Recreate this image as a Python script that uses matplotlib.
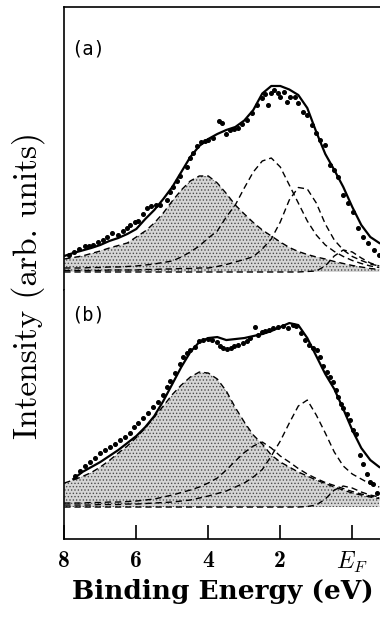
import matplotlib
matplotlib.use("Agg")
import matplotlib.pyplot as plt

plt.rcParams['mathtext.fontset'] = 'cm'
plt.rcParams['hatch.linewidth'] = 0.6

# energy grid for the fitted curves (eV)
energy = [8.0, 7.75, 7.5, 7.25, 7.0, 6.75, 6.5, 6.25, 6.0, 5.75, 5.5, 5.25,
          5.0, 4.75, 4.5, 4.25, 4.0, 3.75, 3.5, 3.25, 3.0, 2.75, 2.5, 2.25,
          2.0, 1.75, 1.5, 1.25, 1.0, 0.75, 0.5, 0.25, 0.0, -0.25, -0.5, -0.75]

# ---- panel (a) ----
a_fit = [16, 19, 21.5, 24, 27, 31, 34, 38, 43, 53, 62, 73,
         85, 100, 115, 126, 133, 138, 142, 145, 151.5, 162, 178.5, 186,
         186, 182.5, 177, 164, 140, 118, 102, 85, 65, 47, 35, 29]
a_shaded = [13, 14.5, 16, 18.5, 21, 24, 26.5, 29, 35, 41, 49, 59,
            71, 82, 91, 96, 96, 89, 78.5, 67, 58, 49.5, 42, 36,
            30, 24.5, 20.5, 17.5, 15, 13, 10.5, 8.5, 6.5, 5, 3.5, 2.5]
a_comp2 = [4, 4, 4, 4.5, 4.5, 5, 5, 5.5, 6, 7, 8, 9.5,
           11, 15, 20, 26, 34, 41, 55, 67, 84, 100, 111, 114,
           105, 87, 69, 51, 37, 27, 20.5, 15.5, 11.5, 8.5, 6, 4.5]
a_comp3 = [1.5, 1.5, 1.5, 1.5, 1.5, 2, 2, 2, 2, 2.5, 2.5, 3,
           3, 3.5, 3.5, 4, 4, 5.5, 7.5, 10, 12.5, 15.3, 23, 33,
           50, 72, 84.5, 83, 69, 48, 32, 22, 15.5, 11.5, 8, 6]
a_comp4 = [0, 0, 0, 0, 0, 0, 0, 0, 0, 0, 0, 0,
           0, 0, 0, 0, 0, 0, 0, 0, 0, 0, 0, 0,
           0, 0, 0, 0.5, 1, 6, 16, 22, 20, 14, 9, 6]

a_data_e = [7.88, 7.72, 7.58, 7.42, 7.3, 7.19, 7.05, 6.92, 6.8, 6.68, 6.5, 6.38,
            6.27, 6.18, 6.04, 5.94, 5.8, 5.71, 5.58, 5.45, 5.34, 5.16, 5.05, 4.97,
            4.86, 4.79, 4.6, 4.5, 4.42, 4.3, 4.2, 4.1, 4.0, 3.86, 3.7, 3.62,
            3.52, 3.4, 3.28, 3.17, 3.05, 2.93, 2.79, 2.66, 2.52, 2.42, 2.35, 2.27,
            2.17, 2.07, 2.0, 1.9, 1.82, 1.72, 1.59, 1.5, 1.36, 1.25, 1.13, 1.02,
            0.9, 0.76, 0.62, 0.5, 0.39, 0.25, 0.11, -0.03, -0.17, -0.31, -0.45,
            -0.6, -0.73]
a_data_i = [17, 20, 23, 25.5, 26, 27, 30, 32, 35, 39, 37, 41,
            44, 47, 50, 51, 58, 64, 66, 67, 67, 72, 80, 85,
            91, 96, 105, 114, 119, 126, 130, 131, 132, 134, 151, 149,
            138, 142, 143, 144, 148, 152, 159, 167, 174, 178, 167, 179,
            182, 179, 175, 180, 170, 175, 175, 169, 160, 157, 147, 139,
            132, 127, 107, 102, 95, 77, 69, 60, 44, 35, 29,
            22, 17]

# ---- panel (b) ----
b_fit_e = energy[1:]
b_fit = [28, 35, 40, 45, 51, 57, 64, 71, 80, 91, 106,
         123, 140, 155, 165, 169, 170, 167, 168, 169, 171, 173, 176,
         180, 184, 182, 169, 151, 133, 118, 98, 77, 59, 47, 40]
b_shaded = [24, 27, 30.5, 34.5, 40, 46.5, 54, 61, 69.5, 79, 90, 101,
            112.5, 122, 130, 135, 134, 128, 116, 99.5, 85, 72, 63, 52,
            45, 40, 35, 31, 27, 23.5, 20, 17, 14, 12, 10, 8.5]
b_comp2 = [4, 4, 4, 4.5, 4.5, 5, 5, 5.5, 6, 7, 8, 10,
           12, 14.5, 17, 20, 24, 29, 37, 46, 54.5, 61, 65, 59,
           51, 45, 38.5, 33, 28.5, 24.5, 21.5, 18.5, 15.5, 13, 11, 9]
b_comp3 = [2, 2, 2, 2, 2.5, 2.5, 2.5, 3, 3, 3.5, 4, 4.5,
           5, 6, 7, 9, 11, 13.5, 16, 20, 24, 30, 37.5, 51,
           66, 84, 101, 107, 92, 74, 55, 41, 33, 28, 23, 20]
b_comp4 = [0, 0, 0, 0, 0, 0, 0, 0, 0, 0, 0, 0,
           0, 0, 0, 0, 0, 0, 0, 0, 0, 0, 0, 0,
           0, 0, 0, 0.5, 2, 8, 17, 21, 19, 15, 12, 10]

b_data_e = [7.7, 7.56, 7.42, 7.29, 7.15, 7.0, 6.87, 6.73, 6.59, 6.45, 6.32, 6.18,
            6.05, 5.94, 5.8, 5.67, 5.53, 5.4, 5.25, 5.15, 5.06, 4.92, 4.79, 4.69,
            4.58, 4.5, 4.38, 4.26, 4.14, 4.02, 3.9, 3.77, 3.68, 3.58, 3.49, 3.38,
            3.28, 3.17, 3.03, 2.93, 2.84, 2.7, 2.62, 2.52, 2.42, 2.3, 2.19, 2.05,
            1.92, 1.78, 1.66, 1.55, 1.42, 1.31, 1.2, 1.08, 0.99, 0.9, 0.8, 0.71,
            0.62, 0.53, 0.45, 0.39, 0.3, 0.25, 0.16, 0.06, -0.03, -0.1, -0.21,
            -0.31, -0.4, -0.49, -0.58, -0.68]
b_data_i = [31, 36, 41, 45, 49, 54, 57, 60, 63, 67, 70, 74,
            80, 84, 89, 94, 100, 105, 112, 120, 126, 134, 143, 150,
            154, 157, 160, 166, 167, 168, 167, 165, 161, 159, 158, 159,
            161, 162, 164, 166, 169, 180, 172, 175, 176, 177, 179, 180,
            181, 179, 182, 181, 174, 167, 162, 159, 157, 150, 141, 135,
            130, 125, 117, 110, 103, 99, 93, 87, 77, 73, 52,
            43, 33, 25, 23, 14]

xticks = [8, 6, 4, 2, 0]
xtick_labels = ['8', '6', '4', '2', '$E_F$']

fig = plt.figure(figsize=(3.8, 6.3), dpi=100)
ax_a = fig.add_axes([0.1692, 0.5397, 0.8526, 0.4492])
ax_b = fig.add_axes([0.1692, 0.1444, 0.8526, 0.3952])

dash = (0, (4.5, 2.8))

panels = [
    (ax_a, energy, a_fit, a_shaded, [a_comp2, a_comp3, a_comp4], a_data_e, a_data_i, '(a)', 0.85, (-18, 265)),
    (ax_b, b_fit_e, b_fit, b_shaded, [b_comp2, b_comp3, b_comp4], b_data_e, b_data_i, '(b)', 0.9, (-32, 217)),
]

for ax, fit_e, fit, shaded, comps, data_e, data_i, label, label_y, ylim in panels:
    ax.fill_between(energy, 0, shaded, facecolor='0.84', edgecolor='0.3',
                    hatch='.....', linewidth=0, zorder=1)
    ax.plot(energy, shaded, color='black', lw=1.0, ls=dash, zorder=2)
    for comp in comps:
        ax.plot(energy, comp, color='black', lw=1.0, ls=dash, zorder=2)
    ax.plot(fit_e, fit, color='black', lw=1.6, zorder=3)
    ax.plot(data_e, data_i, 'o', color='black', ms=2.6, zorder=4)
    ax.text(0.022, label_y, label, transform=ax.transAxes, fontsize=13.5,
            ha='left', va='center', family='DejaVu Sans Mono')
    ax.set_xlim(8, -1)
    ax.set_ylim(*ylim)
    ax.set_yticks([])
    ax.spines['right'].set_visible(False)
    for s in ax.spines.values():
        s.set_linewidth(1.2)

ax_a.spines['bottom'].set_visible(False)
ax_a.set_xticks([])
ax_b.spines['top'].set_visible(False)
ax_b.set_xticks(xticks)
ax_b.set_xticklabels(xtick_labels)
for t in ax_b.get_xticklabels()[:4]:
    t.set_family('cmb10')
ax_b.tick_params(axis='x', direction='in', length=10, width=1.2, pad=8, labelsize=17)

fig.text(0.074, 0.5476, 'Intensity (arb. units)', rotation=90, ha='center',
         va='center', fontsize=24, family='cmr10')
fig.text(0.189, 0.0619, 'Binding Energy (eV)', ha='left', va='center',
         fontsize=19, family='DejaVu Serif', weight='bold')

fig.savefig('out.png', dpi=100)
